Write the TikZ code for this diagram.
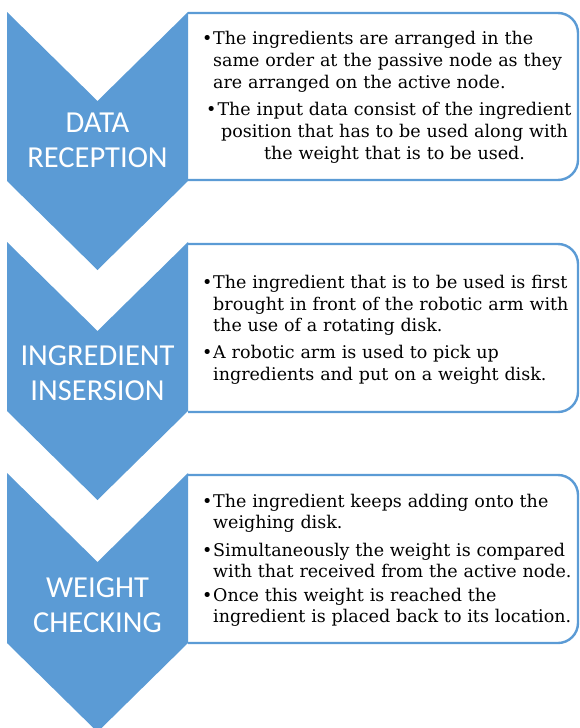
\documentclass[tikz,border=0pt]{standalone}
\usepackage{fontspec}
\setmainfont{DejaVu Serif}
\newfontfamily\stepfont{Carlito}
\usepackage{tikz}
\usetikzlibrary{positioning}

\definecolor{stepblue}{RGB}{91,155,213}

% bullet and hanging indent for the description lines
\newcommand{\bul}{\makebox[11pt][l]{\textbullet}}
\newcommand{\cont}{\hspace*{11pt}}

\begin{document}
\begin{tikzpicture}[
  x=1pt, y=-1pt,
  chev/.style={fill=stepblue},
  card/.style={draw=stepblue, line width=2.4pt, fill=white,
               rounded corners=20pt},
  steplbl/.style={text=white, font=\stepfont\fontsize{30.5}{35}\selectfont,
                  align=center, text width=180pt, inner sep=0pt, anchor=base},
  pts/.style={font=\fontsize{17.5}{22}\selectfont, align=left,
              text width=400pt, inner sep=0pt, anchor=base west},
]
\useasboundingbox (0,0) rectangle (580,728);

% --- Step 1 ---
\draw[card] (188,13) -- (578,13) -- (578,180) -- (188,180);
\fill[chev] (7,12) -- (97.5,101) -- (188,12) -- (188,181)
  -- (97.5,270) -- (7,181) -- cycle;
\node[steplbl] (s1) at (97.5,132) {DATA\\RECEPTION};
\node[pts] (d1a) at (202,44.3) {%
  \bul The ingredients are arranged in the\\
  \cont same order at the passive node as they\\
  \cont are arranged on the active node.};
\node[pts, align=center, anchor=base] (d1b) at (394.5,115) {%
  \llap{\textbullet\hspace{1pt}}The input data consist of the ingredient\\
  position that has to be used along with\\
  the weight that is to be used.};

% --- Step 2 ---
\draw[card] (188,244) -- (578,244) -- (578,412) -- (188,412);
\fill[chev] (7,242) -- (97.5,331) -- (188,242) -- (188,411)
  -- (97.5,500) -- (7,411) -- cycle;
\node[steplbl] (s2) at (97.5,365) {INGREDIENT\\INSERSION};
\node[pts, font=\fontsize{17.5}{21.7}\selectfont] (d2a) at (202,288.3) {%
  \bul The ingredient that is to be used is first\\
  \cont brought in front of the robotic arm with\\
  \cont the use of a rotating disk.};
\node[pts, font=\fontsize{17.5}{21.7}\selectfont] (d2b) at (202,358.3) {%
  \bul A robotic arm is used to pick up\\
  \cont ingredients and put on a weight disk.};

% --- Step 3 ---
\draw[card] (188,475) -- (578,475) -- (578,643) -- (188,643);
\fill[chev] (7,473) -- (97.5,562) -- (188,473) -- (188,643)
  -- (97.5,732) -- (7,643) -- cycle;
\node[steplbl] (s3) at (97.5,597) {WEIGHT\\CHECKING};
\node[pts, font=\fontsize{17.5}{20.5}\selectfont] (d3a) at (202,507.7) {%
  \bul The ingredient keeps adding onto the\\
  \cont weighing disk.};
\node[pts, font=\fontsize{17.5}{20.5}\selectfont] (d3b) at (202,556.7) {%
  \bul Simultaneously the weight is compared\\
  \cont with that received from the active node.};
\node[pts, font=\fontsize{17.5}{20.5}\selectfont] (d3c) at (202,601.7) {%
  \bul Once this weight is reached the\\
  \cont ingredient is placed back to its location.};

\end{tikzpicture}
\end{document}
